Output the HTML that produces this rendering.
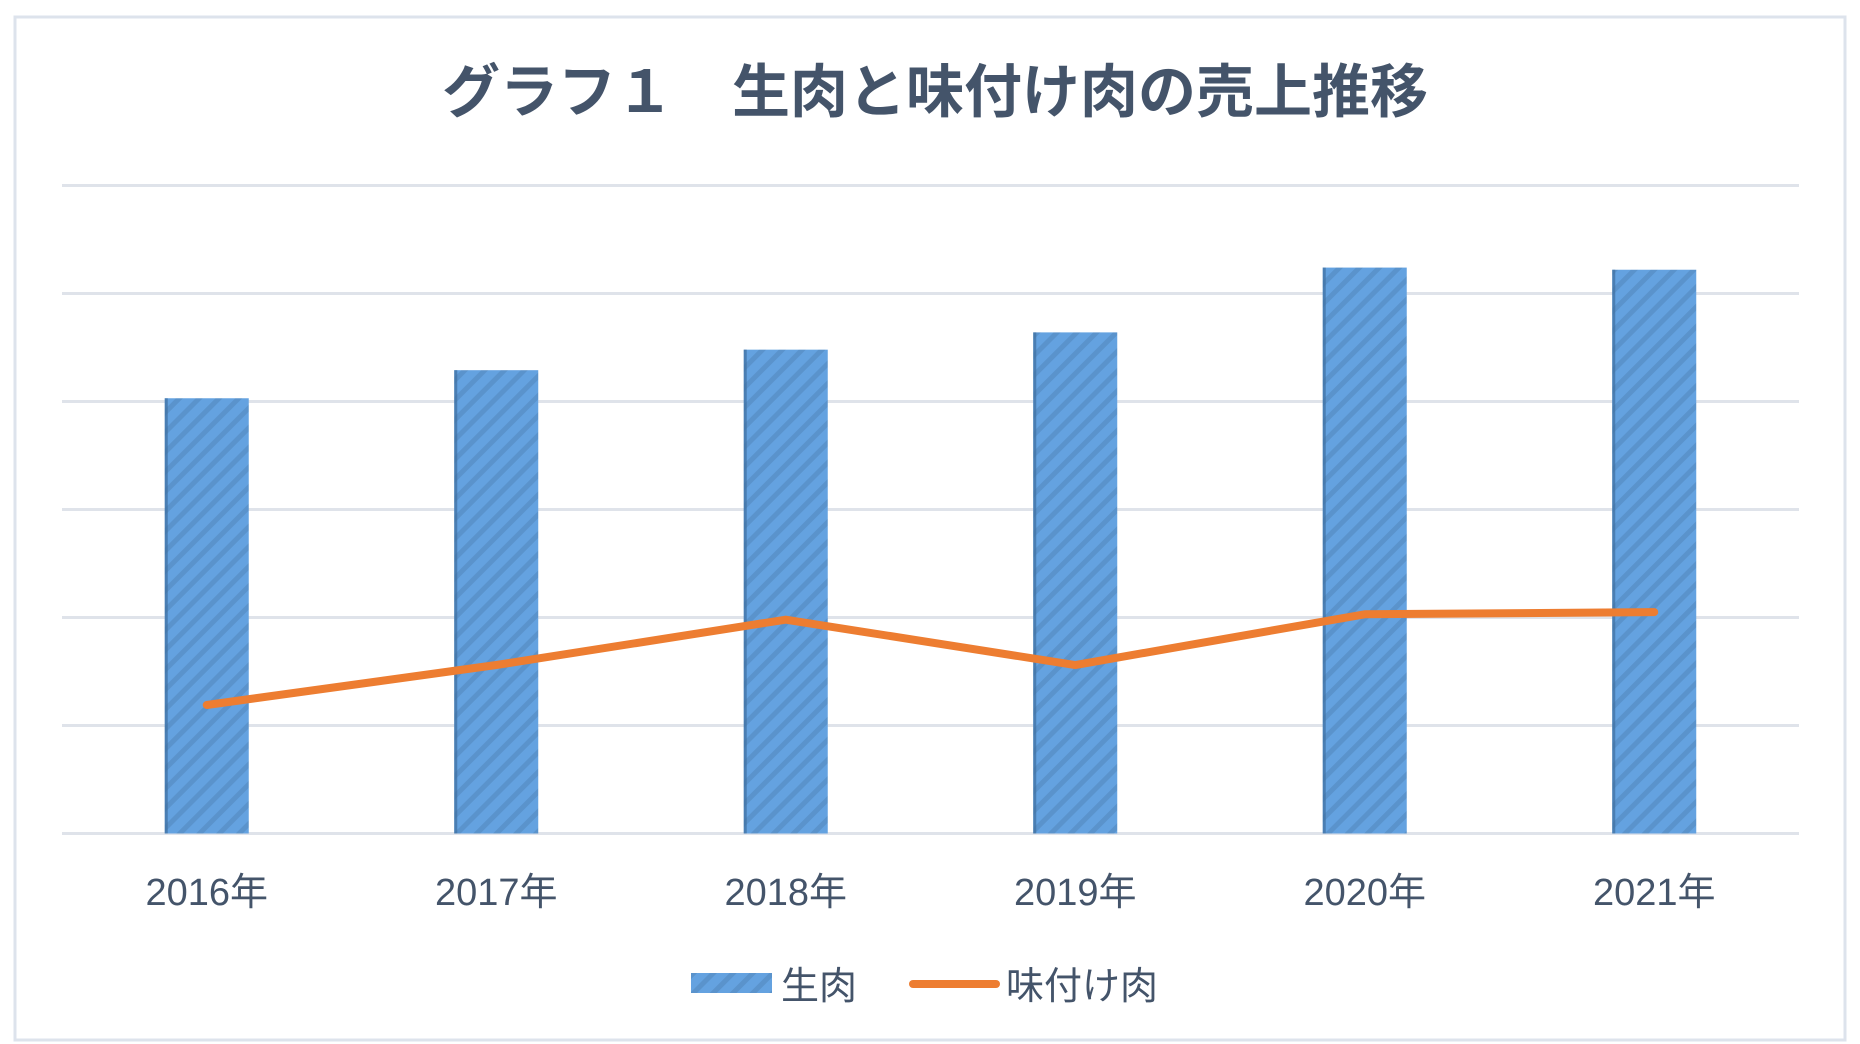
<!DOCTYPE html>
<html><head><meta charset="utf-8"><style>
body{margin:0;background:#fff;}
svg{display:block;font-family:"Liberation Sans","Noto Sans CJK JP",sans-serif;}
</style></head><body>
<svg width="1860" height="1044" viewBox="0 0 1860 1044">
<defs>
<pattern id="hatch" width="14" height="14" patternUnits="userSpaceOnUse" patternTransform="rotate(45)">
<rect width="14" height="14" fill="#64a2e0"/>
<rect width="5" height="14" fill="#5a93cc"/>
</pattern>
</defs>
<rect x="15" y="17" width="1830" height="1023" fill="#fff" stroke="#dde3ec" stroke-width="3"/>
<text x="935" y="112" text-anchor="middle" font-size="58" font-weight="bold" fill="#44546a">グラフ１　生肉と味付け肉の売上推移</text>
<g id="grid"></g>
<g id="bars"></g>
<g id="line"></g>
<g id="xlabels"></g>
<g>
<rect x="691" y="973" width="81" height="20" fill="url(#hatch)"/>
<text x="781" y="999" font-size="38" fill="#44546a">生肉</text>
<line x1="913" y1="984" x2="996" y2="984" stroke="#ed7d31" stroke-width="8" stroke-linecap="round"/>
<text x="1006" y="999" font-size="38" fill="#44546a">味付け肉</text>
</g>
</svg>
<script>
const categories=["2016年","2017年","2018年","2019年","2020年","2021年"];
const rawMeat=[4.03,4.29,4.48,4.64,5.24,5.22];
const seasonedMeat=[1.19,1.56,1.98,1.56,2.03,2.05];
const gridTicks=[0,1,2,3,4,5,6];
const NS="http://www.w3.org/2000/svg";
const L=62,R=1799,B=833.5,U=108;
const bw=(R-L)/categories.length;
const x=i=>L+bw*(i+0.5);
const y=v=>B-v*U;
const mk=(t,a,p)=>{const e=document.createElementNS(NS,t);for(const k in a)e.setAttribute(k,a[k]);p.appendChild(e);return e;};
const g=document.getElementById('grid');
gridTicks.forEach(t=>{
 const l=mk('line',{x1:L,x2:R,y1:y(t),y2:y(t),stroke:'#dfe3ea','stroke-width':3},g);
 
 
});
const bg=document.getElementById('bars');
rawMeat.forEach((v,i)=>{
 const r=mk('rect',{x:x(i)-42,y:y(v),width:84,height:B-y(v),fill:'url(#hatch)'},bg);
 
 
 const e=mk('rect',{x:x(i)-42,y:y(v),width:3,height:B-y(v),fill:'#3f6fa0',opacity:0.7},bg);
 
 
});
const lg=document.getElementById('line');
const p=mk('polyline',{points:seasonedMeat.map((v,i)=>x(i)+','+y(v)).join(' '),fill:'none',stroke:'#ed7d31','stroke-width':8,'stroke-linecap':'round','stroke-linejoin':'round'},lg);


const xl=document.getElementById('xlabels');
categories.forEach((c,i)=>{
 const t=mk('text',{x:x(i),y:905,'text-anchor':'middle','font-size':38,fill:'#44546a'},xl);
 t.textContent=c;
 
 
});
</script>
</body></html>
